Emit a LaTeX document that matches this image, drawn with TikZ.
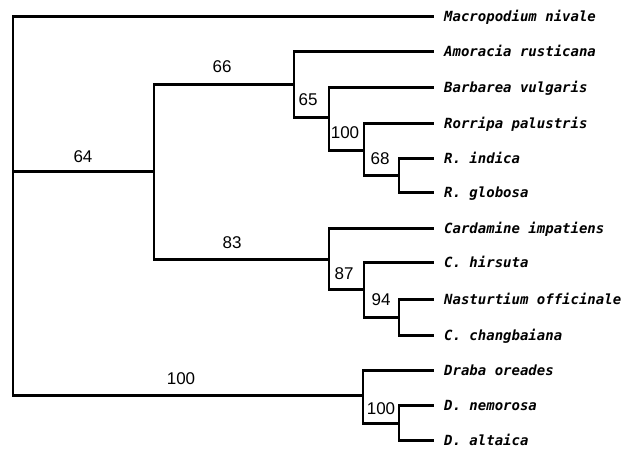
\documentclass[tikz,border=0pt]{standalone}
\usepackage{fontspec}
\setmainfont{Liberation Sans}
\newfontfamily\leaffont{DejaVu Sans Mono}
\begin{document}
\begin{tikzpicture}[x=1pt,y=-1pt,
  hline/.style={line width=3pt, shorten <=-0.8pt},
  vline/.style={line width=1.6pt},
  leaf/.style={anchor=base west, inner sep=0pt, font=\leaffont\bfseries\itshape\fontsize{14}{14}\selectfont},
  support/.style={inner sep=0pt, font=\fontsize{17}{17}\selectfont}]
\useasboundingbox (0,0) rectangle (637,454);
% leaf tips
\foreach \i/\y in {1/17,2/52,3/88,4/124,5/159,6/193,7/229,8/263,9/300,10/335,11/370,12/405,13/440}
  \coordinate (t\i) at (434,\y);
% leaf labels
\node[leaf] (n1)  at (444,22)  {Macropodium nivale};
\node[leaf] (n2)  at (444,57)  {Amoracia rusticana};
\node[leaf] (n3)  at (444,93)  {Barbarea vulgaris};
\node[leaf] (n4)  at (444,129) {Rorripa palustris};
\node[leaf] (n5)  at (444,164) {R. indica};
\node[leaf] (n6)  at (444,198) {R. globosa};
\node[leaf] (n7)  at (444,234) {Cardamine impatiens};
\node[leaf] (n8)  at (444,268) {C. hirsuta};
\node[leaf] (n9)  at (444,305) {Nasturtium officinale};
\node[leaf] (n10) at (444,340) {C. changbaiana};
\node[leaf] (n11) at (444,375) {Draba oreades};
\node[leaf] (n12) at (444,410) {D. nemorosa};
\node[leaf] (n13) at (444,445) {D. altaica};
% internal nodes
\coordinate (root) at (13,206);
\coordinate (A) at (154,172);
\coordinate (B) at (294,85);
\coordinate (C) at (329,118);
\coordinate (D) at (364,151);
\coordinate (E) at (399,176);
\coordinate (F) at (329,260);
\coordinate (G) at (364,290);
\coordinate (H) at (399,317);
\coordinate (I) at (363,395);
\coordinate (J) at (399,423);
% verticals
\draw[vline] (root |- t1) -- (root |- I);
\draw[vline] (A |- B) -- (A |- F);
\draw[vline] (B |- t2) -- (B |- C);
\draw[vline] (C |- t3) -- (C |- D);
\draw[vline] (D |- t4) -- (D |- E);
\draw[vline] (E |- t5) -- (E |- t6);
\draw[vline] (F |- t7) -- (F |- G);
\draw[vline] (G |- t8) -- (G |- H);
\draw[vline] (H |- t9) -- (H |- t10);
\draw[vline] (I |- t11) -- (I |- J);
\draw[vline] (J |- t12) -- (J |- t13);
% horizontals
\draw[hline] (root |- t1) -- (t1);
\draw[hline] (root |- A) -- (A);
\draw[hline] (root |- I) -- (I);
\draw[hline] (A |- B) -- (B);
\draw[hline] (A |- F) -- (F);
\draw[hline] (B |- t2) -- (t2);
\draw[hline] (B |- C) -- (C);
\draw[hline] (C |- t3) -- (t3);
\draw[hline] (C |- D) -- (D);
\draw[hline] (D |- t4) -- (t4);
\draw[hline] (D |- E) -- (E);
\draw[hline] (E |- t5) -- (t5);
\draw[hline] (E |- t6) -- (t6);
\draw[hline] (F |- t7) -- (t7);
\draw[hline] (F |- G) -- (G);
\draw[hline] (G |- t8) -- (t8);
\draw[hline] (G |- H) -- (H);
\draw[hline] (H |- t9) -- (t9);
\draw[hline] (H |- t10) -- (t10);
\draw[hline] (I |- t11) -- (t11);
\draw[hline] (I |- J) -- (J);
\draw[hline] (J |- t12) -- (t12);
\draw[hline] (J |- t13) -- (t13);
% support values
\node[support] (s64)  at (83,157)  {64};
\node[support] (s66)  at (222,67)  {66};
\node[support] (s65)  at (308,100) {65};
\node[support] (s100a) at (345,133) {100};
\node[support] (s68)  at (380,159) {68};
\node[support] (s83)  at (232,243) {83};
\node[support] (s87)  at (344,274) {87};
\node[support] (s94)  at (381,300) {94};
\node[support] (s100b) at (181,379) {100};
\node[support] (s100c) at (381,409) {100};
\end{tikzpicture}
\end{document}
